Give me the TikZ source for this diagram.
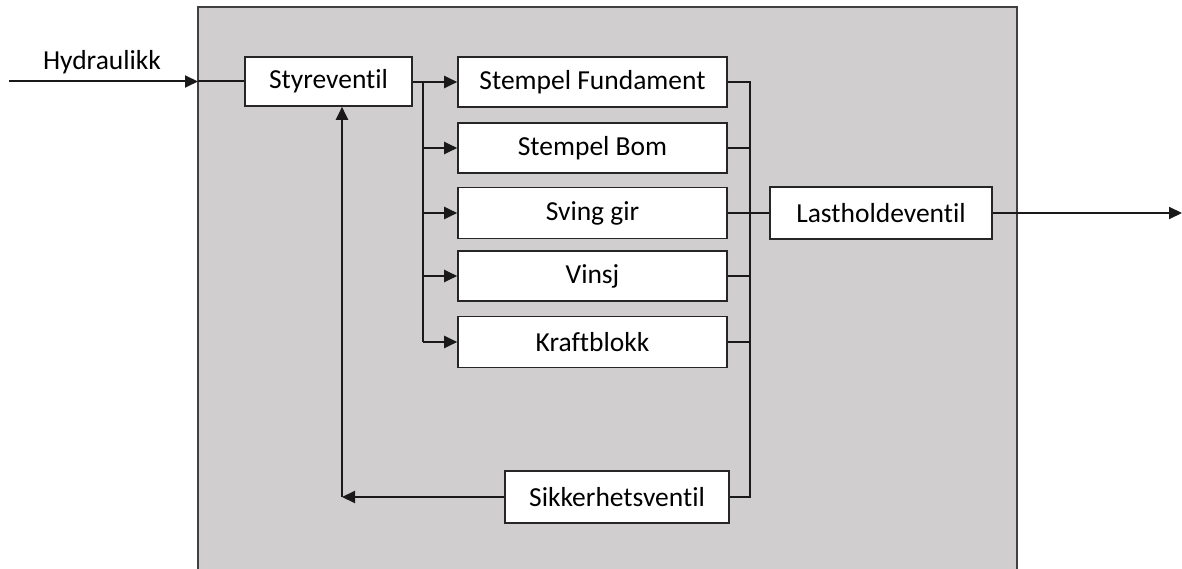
\documentclass[tikz,border=0pt]{standalone}
\usepackage{fontspec}
\setmainfont{Carlito}[Ligatures=NoCommon]
\usetikzlibrary{arrows.meta}
\begin{document}
\begin{tikzpicture}[x=1pt,y=-1pt,
  lbl/.style={font=\fontsize{27.5}{33}\selectfont},
  box/.style={lbl, draw=black!85, fill=white, line width=1.6pt, inner sep=0pt, align=center},
  wire/.style={line width=2pt, draw=black!90},
  arr/.style={wire, -{Triangle[length=13pt,width=12pt]}}]
  \useasboundingbox (0,0) rectangle (1182,569);
  \clip (0,0) rectangle (1182,569);
  % housing
  \draw[fill={rgb,255:red,208;green,206;blue,206}, draw=black!75, line width=2.2pt] (198,7) rectangle (1017,600);

  % components
  \node[box, minimum width=167pt, minimum height=49pt] (sty) at (328.5,81.5) {Styreventil};
  \node[box, minimum width=269pt, minimum height=50pt] (sf) at (592.5,82) {Stempel Fundament};
  \node[box, minimum width=269pt, minimum height=50pt] (sb) at (592.5,148) {Stempel Bom};
  \node[box, minimum width=269pt, minimum height=51pt] (sg) at (592.5,213) {Sving gir};
  \node[box, minimum width=269pt, minimum height=50pt] (vi) at (592.5,276) {Vinsj};
  \node[box, minimum width=269pt, minimum height=51pt] (kb) at (592.5,342) {Kraftblokk};
  \node[box, minimum width=222pt, minimum height=52pt] (lh) at (881,213) {Lastholdeventil};
  \node[box, minimum width=224pt, minimum height=52pt] (sk) at (617,497) {Sikkerhetsventil};
  \node[lbl] (hyd) at (102,62) {Hydraulikk};

  % input and output
  \coordinate (in) at (9,81.5);
  \coordinate (wall) at (198,81.5);
  \coordinate (out) at (1182,213);
  \draw[arr] (in) -- (wall);
  \draw[wire] (wall) -- (sty.west);
  \draw[arr] (lh.east) -- (out);

  % distribution from the control valve
  \coordinate (ta) at (423,82);
  \coordinate (tb) at (423,342);
  \draw[wire] (sty.east |- ta) -- (ta) -- (tb);
  \foreach \n in {sf,sb,sg,vi,kb}
    \draw[arr] (ta |- \n.west) -- (\n.west);

  % return collector
  \coordinate (ra) at (750,82);
  \coordinate (rb) at (750,497);
  \draw[wire] (sf.east) -- (ra) -- (rb) -- (sk.east);
  \foreach \n in {sb,sg,vi,kb}
    \draw[wire] (\n.east) -- (ra |- \n.east);
  \draw[wire] (ra |- lh.west) -- (lh.west);

  % relief feedback
  \coordinate (fb) at (342,497);
  \draw[arr] (sk.west) -- (fb);
  \draw[arr] (fb) -- (fb |- sty.south);
\end{tikzpicture}
\end{document}
